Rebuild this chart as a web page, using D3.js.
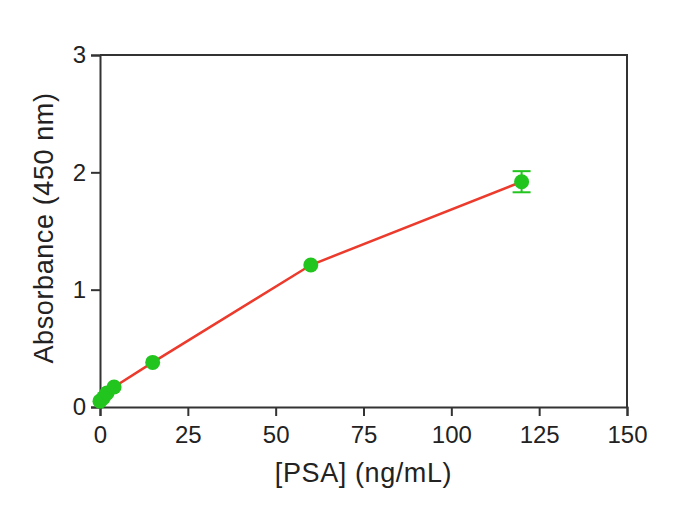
<!DOCTYPE html>
<html>
<head>
  <meta charset="UTF-8">
  <script src="https://cdn.jsdelivr.net/npm/d3@7"></script>
  <style>
    body { margin: 0; background: #fff; }
    text { font-family: "Liberation Sans", Arial, sans-serif; fill: #222; }
  </style>
</head>
<body>
<div id="chart"></div>
<script>
  // PSA standard curve
  var conc = [0, 1, 2, 4, 15, 60, 120];
  var absorb = [0.05, 0.08, 0.12, 0.17, 0.38, 1.21, 1.92];
  var sem = [0.01, 0.01, 0.01, 0.01, 0.01, 0.01, 0.09];
  var xTicks = [0, 25, 50, 75, 100, 125, 150];
  var yTicks = [0, 1, 2, 3];

  var w = 693, h = 508;
  var m = {left: 100, right: 66, top: 55, bottom: 101};

  var svg = d3.select('#chart').append('svg')
      .attr('width', w)
      .attr('height', h);

  var x = d3.scaleLinear().domain([0, 150]).range([m.left, w - m.right]);
  var y = d3.scaleLinear().domain([0, 3]).range([h - m.bottom, m.top]);

  var axisColor = '#333';

  // frame (top + right)
  svg.append('path')
      .attr('d', 'M' + x(0) + ',' + y(3) + 'H' + x(150) + 'V' + y(0))
      .attr('fill', 'none')
      .attr('stroke', axisColor)
      .attr('stroke-width', 2);

  var xAxis = svg.append('g')
      .attr('transform', 'translate(0,' + y(0) + ')')
      .call(d3.axisBottom(x).tickValues(xTicks).tickSize(9).tickPadding(10));

  var yAxis = svg.append('g')
      .attr('transform', 'translate(' + x(0) + ',0)')
      .call(d3.axisLeft(y).tickValues(yTicks).tickFormat(d3.format('d')).tickSize(9).tickPadding(5));

  [xAxis, yAxis].forEach(function(g){
    g.select('.domain').attr('stroke', axisColor).attr('stroke-width', 2);
    g.selectAll('.tick line').attr('stroke', axisColor).attr('stroke-width', 2);
    g.selectAll('.tick text')
        .style('font-family', '"Liberation Sans", Arial, sans-serif')
        .style('font-size', '24px')
        .attr('fill', '#222');
  });

  svg.append('text')
      .attr('x', (x(0) + x(150)) / 2)
      .attr('y', 482)
      .attr('text-anchor', 'middle')
      .style('font-size', '27px')
      .style('letter-spacing', '0.6px')
      .text('[PSA] (ng/mL)');

  svg.append('text')
      .attr('transform', 'translate(53,228) rotate(-90)')
      .attr('text-anchor', 'middle')
      .style('font-size', '27px')
      .style('letter-spacing', '0.6px')
      .text('Absorbance (450 nm)');

  var pts = conc.map(function(c, i){ return {c: c, a: absorb[i], e: sem[i]}; });

  svg.append('path')
      .datum(pts)
      .attr('fill', 'none')
      .attr('stroke', '#ec3a2c')
      .attr('stroke-width', 2.5)
      .attr('d', d3.line().x(function(d){ return x(d.c); }).y(function(d){ return y(d.a); }));

  var green = '#22c41e';

  var err = svg.append('g').selectAll('g')
      .data(pts.filter(function(d){ return d.e > 0.03; }))
      .enter().append('g')
      .attr('stroke', green)
      .attr('stroke-width', 2);
  err.append('line')
      .attr('x1', function(d){ return x(d.c); })
      .attr('x2', function(d){ return x(d.c); })
      .attr('y1', function(d){ return y(d.a + d.e); })
      .attr('y2', function(d){ return y(d.a - d.e); });
  err.append('line')
      .attr('x1', function(d){ return x(d.c) - 9; })
      .attr('x2', function(d){ return x(d.c) + 9; })
      .attr('y1', function(d){ return y(d.a + d.e); })
      .attr('y2', function(d){ return y(d.a + d.e); });
  err.append('line')
      .attr('x1', function(d){ return x(d.c) - 9; })
      .attr('x2', function(d){ return x(d.c) + 9; })
      .attr('y1', function(d){ return y(d.a - d.e); })
      .attr('y2', function(d){ return y(d.a - d.e); });

  svg.append('g').selectAll('circle')
      .data(pts)
      .enter().append('circle')
      .attr('cx', function(d){ return x(d.c); })
      .attr('cy', function(d){ return y(d.a); })
      .attr('r', 7.5)
      .attr('fill', green);
</script>
</body>
</html>
